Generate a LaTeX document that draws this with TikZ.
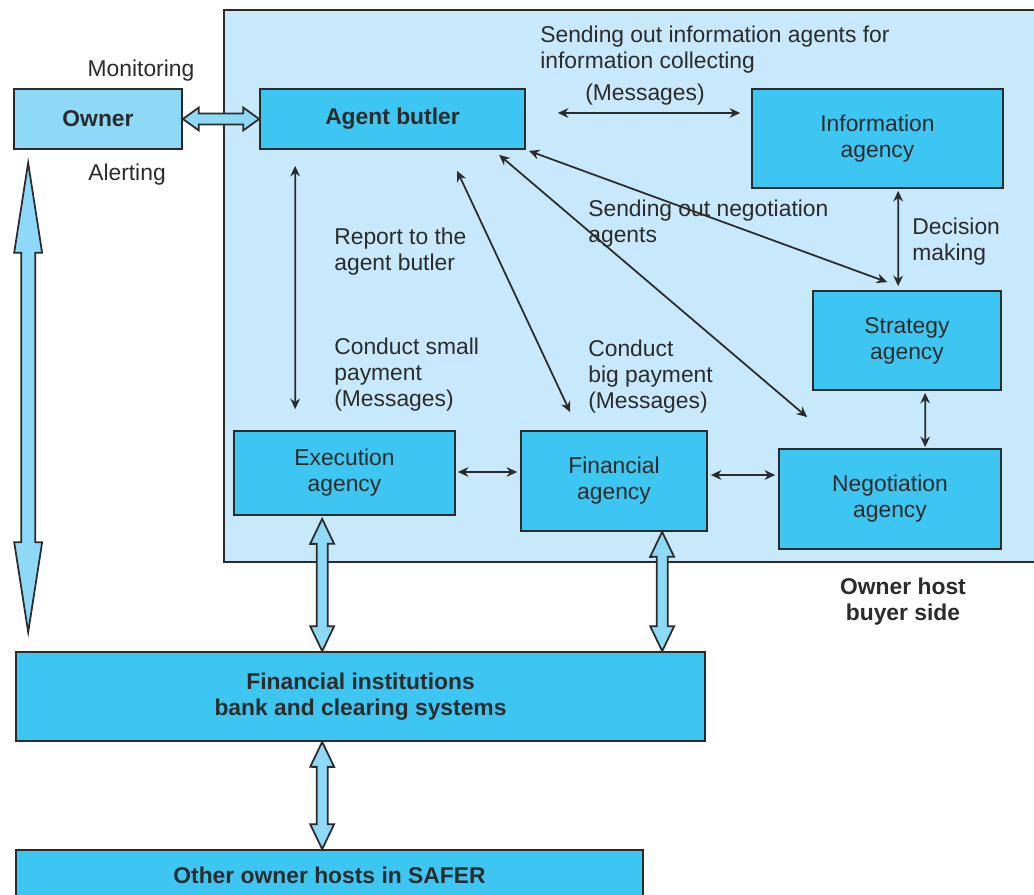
\documentclass[tikz,border=0pt]{standalone}
\usepackage{fontspec}
\setmainfont{Liberation Sans}
\usetikzlibrary{arrows.meta,calc}

\definecolor{hostblue}{HTML}{C8E9FB}
\definecolor{agentblue}{HTML}{3EC6F2}
\definecolor{paleblue}{HTML}{8ED8F8}
\definecolor{edge}{HTML}{2B2B2B}

\newcommand\lblfont{\fontsize{13pt}{14.7pt}\selectfont}

\tikzset{
  every node/.style={font=\lblfont, text=edge},
  bold/.style={font=\lblfont\bfseries},
  agency/.style={draw=edge, line width=1pt, fill=agentblue, align=center, inner sep=0pt},
  ownerbox/.style={agency, fill=paleblue},
  tag/.style={align=left, inner sep=0pt},
  msg/.style={{Stealth[length=6pt,width=5.5pt]}-{Stealth[length=6pt,width=5.5pt]}, line width=1pt, draw=edge},
  fat/.style={draw=edge, line width=1pt, fill=paleblue, line join=miter},
}

% fat double arrow: from, to, head length, head half width, shaft half width
\newcommand\fatarrow[5]{%
  \path #1 coordinate (fa1) #2 coordinate (fa2);
  \path ($(fa1)!#3!(fa2)$) coordinate (fb1) ($(fa2)!#3!(fa1)$) coordinate (fb2);
  \draw[fat] (fa1) -- ($(fb1)!#4!90:(fa2)$) -- ($(fb1)!#5!90:(fa2)$)
    -- ($(fb2)!#5!-90:(fa1)$) -- ($(fb2)!#4!-90:(fa1)$) -- (fa2)
    -- ($(fb2)!#4!90:(fa1)$) -- ($(fb2)!#5!90:(fa1)$)
    -- ($(fb1)!#5!-90:(fa2)$) -- ($(fb1)!#4!-90:(fa2)$) -- cycle;
}

\begin{document}
\begin{tikzpicture}[x=0.02cm, y=-0.02cm]
\useasboundingbox (0,0) rectangle (1034,895);

% owner host, buyer side
\draw[draw=edge, line width=1pt, fill=hostblue] (224,10) rectangle (1045,562);

% boxes
\node[ownerbox, bold, minimum width=3.36cm, minimum height=1.2cm] (owner) at (98,119) {Owner};
\node[agency, bold, minimum width=5.3cm, minimum height=1.2cm] (butler) at (392.5,119) {Agent butler};
\node[agency, minimum width=5.02cm, minimum height=1.98cm] (info) at (877.5,138.5) {Information\\agency};
\node[agency, minimum width=3.76cm, minimum height=1.98cm] (strat) at (907,340.5) {Strategy\\agency};
\node[agency, minimum width=4.44cm, minimum height=2cm] (nego) at (890,499) {Negotiation\\agency};
\node[agency, minimum width=4.42cm, minimum height=1.68cm] (exec) at (344.5,473) {Execution\\agency};
\node[agency, minimum width=3.72cm, minimum height=2cm] (fin) at (614,481) {Financial\\agency};
\node[agency, bold, minimum width=13.78cm, minimum height=1.78cm] (bank) at (360.5,696.5) {Financial institutions\\bank and clearing systems};
\node[agency, bold, minimum width=12.54cm, minimum height=1cm] (others) at (329.5,875) {Other owner hosts in SAFER};

% labels
\node (mon) at (141,70.5) {Monitoring};
\node (alert) at (127,174.5) {Alerting};
\node[tag, anchor=west] (sendinfo) at (540,50) {Sending out information agents for\\information collecting};
\node (msgs) at (645,94.5) {(Messages)};
\node[tag, anchor=west] (report) at (334,251.5) {Report to the\\agent butler};
\node[tag, anchor=west] (small) at (334,374.5) {Conduct small\\payment\\(Messages)};
\node[tag, anchor=west] (big) at (588,376.5) {Conduct\\big payment\\(Messages)};
\node[tag, anchor=west] (sendneg) at (588,223.5) {Sending out negotiation\\agents};
\node[tag, anchor=west] (decide) at (912,241.5) {Decision\\making};
\node[bold, align=center] (hostlbl) at (903,601.5) {Owner host\\buyer side};

% messages
\draw[msg] ($(butler.east)+(32,-6)$) -- ($(info.west)+(-11,-25.5)$);
\draw[msg] ($(butler.south west)+(36,16)$) -- ($(exec.north west)+(62,-21)$);
\draw[msg] ($(butler.south west)+(198,21)$) -- ($(fin.north west)+(50,-18)$);
\draw[msg] ($(butler.south west)+(240,5)$) -- ($(nego.north west)+(29,-31)$);
\draw[msg] ($(butler.south east)+(3,1)$) -- ($(strat.north west)+(75,-8)$);
\draw[msg] ($(info.south west)+(147,2)$) -- ($(strat.north west)+(86,-4)$);
\draw[msg] ($(strat.south west)+(113,2)$) -- ($(nego.north west)+(147,-1)$);
\draw[msg] ($(exec.east)+(2,-1)$) -- ($(fin.west)+(-3,-9)$);
\draw[msg] ($(fin.east)+(3,-6)$) -- ($(nego.west)+(-3,-24)$);

% fat arrows
\fatarrow{(owner.east)}{(butler.west)}{0.32cm}{0.23cm}{0.11cm}
\fatarrow{($(owner.south west)+(15,13)$)}{($(bank.north west)+(13,-19)$)}{1.8cm}{0.28cm}{0.14cm}
\fatarrow{($(exec.south west)+(89,3)$)}{($(bank.north west)+(307,0)$)}{0.5cm}{0.24cm}{0.11cm}
\fatarrow{($(fin.south west)+(142,0)$)}{($(bank.north west)+(647,0)$)}{0.5cm}{0.24cm}{0.11cm}
\fatarrow{($(bank.south west)+(307,0)$)}{($(others.north west)+(307,0)$)}{0.5cm}{0.24cm}{0.11cm}
\end{tikzpicture}
\end{document}
